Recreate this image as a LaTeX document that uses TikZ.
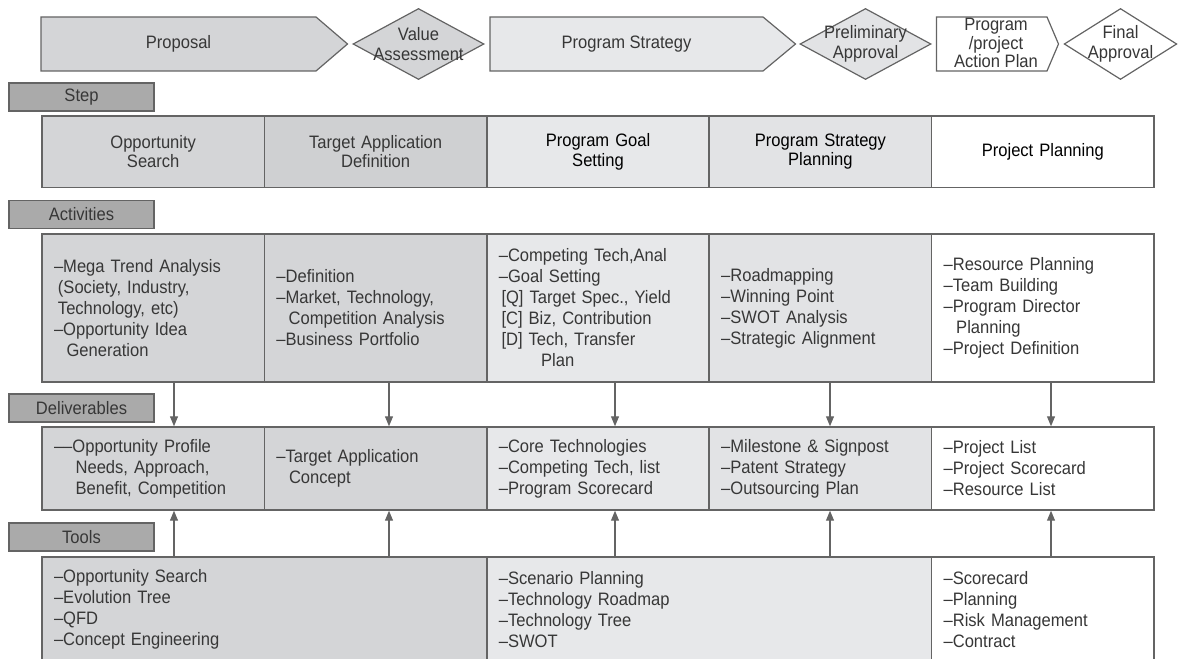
\documentclass[tikz,border=0pt]{standalone}
\usepackage{fontspec}
\setmainfont{Liberation Sans}[FakeStretch=0.92]
\usepackage{xcolor}
\usetikzlibrary{shapes.geometric,arrows.meta}
\definecolor{phasedark}{RGB}{212,213,215}
\definecolor{phasedeep}{RGB}{207,208,210}
\definecolor{phaselight}{RGB}{231,232,234}
\definecolor{phasemid}{RGB}{226,227,229}
\definecolor{labelfill}{RGB}{170,170,170}
\definecolor{edge}{RGB}{100,100,100}
\definecolor{ink}{RGB}{55,55,55}
\tikzstyle{banner}=[draw=edge, line width=0.9pt]
\tikzstyle{gate}=[diamond, draw=edge, line width=0.9pt, minimum width=98.25pt, minimum height=53.25pt, inner sep=0pt]
\tikzstyle{gatetext}=[align=center, inner sep=0pt, font=\fontsize{13.5pt}{15pt}\selectfont]
\tikzstyle{tag}=[draw=edge, line width=1pt, fill=labelfill, minimum width=108.75pt, minimum height=21pt, inner sep=0pt]
\tikzstyle{stepcell}=[draw=edge, line width=1.1pt, minimum width=166.8pt, minimum height=53.6pt, text width=148.8pt, align=center, inner sep=0pt, font=\fontsize{13.5pt}{14.5pt}\selectfont]
\tikzstyle{cell}=[draw=edge, line width=1.1pt, minimum width=166.8pt, text width=148.8pt, align=left, inner xsep=9pt, inner ysep=0pt]
\tikzstyle{widecell}=[cell, minimum width=333.6pt, text width=315.6pt]
\tikzset{flow/.style={-{Triangle[length=7.5pt,width=6pt]}, draw=edge, line width=0.9pt}}

\begin{document}
\begin{tikzpicture}[x=0.75pt, y=-0.75pt, font=\fontsize{13.5pt}{15.75pt}\selectfont, text=ink]
  \useasboundingbox (0,0) rectangle (1178,659);
  \clip (0,0) rectangle (1178,659);

  %% Phases
  \draw[banner, fill=phasedark] (41,17) -- (316,17) -- (347.5,44) -- (316,71) -- (41,71) -- cycle;
  \draw (178.5,44) node (Proposal) {Proposal};
  \draw (418.5,44) node[gate, fill=phasedark] (ValueGate) {};
  \draw (ValueGate) node[gatetext] (ValueText) {Value\\Assessment};
  \draw[banner, fill=phaselight] (490,17) -- (763,17) -- (795.5,44) -- (763,71) -- (490,71) -- cycle;
  \draw (626.5,44) node (Strategy) {Program Strategy};
  \draw (865.5,44) node[gate, fill=phasemid] (PrelimGate) {};
  \draw (PrelimGate) node[gatetext] (PrelimText) {Preliminary\\Approval};
  \draw[banner, fill=white] (936.5,17) -- (1047,17) -- (1058.5,44) -- (1047,71) -- (936.5,71) -- cycle;
  \draw (996,43) node[align=center, inner sep=0pt, font=\fontsize{13.5pt}{11.6pt}\selectfont] (ActionPlan) {Program\\/project\\Action Plan};
  \draw (1120.5,44) node[gate, fill=white, minimum width=84.5pt] (FinalGate) {};
  \draw (FinalGate) node[gatetext] (FinalText) {Final\\Approval};

  %% Row tags
  \draw (81.5,97) node[tag] (StepTag) {Step};
  \draw (81.5,214.5) node[tag] (ActTag) {Activities};
  \draw (81.5,408) node[tag] (DelTag) {Deliverables};
  \draw (81.5,537) node[tag] (ToolTag) {Tools};

  %% Step
  \draw (153.2,151.75) node[stepcell, fill=phasedark] (S1) {Opportunity\\Search};
  \draw (375.6,151.75) node[stepcell, fill=phasedeep] (S2) {Target Application\\Definition};
  \draw (598,151.75) node[stepcell, fill=phaselight, text=black] (S3) {Program Goal\\Setting};
  \draw (820.4,151.75) node[stepcell, fill=phasemid, text=black] (S4) {Program Strategy\\Planning};
  \draw (1042.8,151.75) node[stepcell, fill=white, text=black] (S5) {Project Planning};

  %% Activities
  \draw (153.2,308) node[cell, fill=phasedark, minimum height=111pt] (A1) {–Mega Trend Analysis\\\hspace*{0.22em}(Society, Industry,\\\hspace*{0.22em}Technology, etc)\\–Opportunity Idea\\\hspace*{0.7em}Generation};
  \draw (375.6,308) node[cell, fill=phasedark, minimum height=111pt] (A2) {–Definition\\–Market, Technology,\\\hspace*{0.68em}Competition Analysis\\–Business Portfolio};
  \draw (598,308) node[cell, fill=phaselight, minimum height=111pt] (A3) {–Competing Tech,Anal\\–Goal Setting\\\hspace*{0.15em}[Q] Target Spec., Yield\\\hspace*{0.15em}[C] Biz, Contribution\\\hspace*{0.15em}[D] Tech, Transfer\\\hspace*{2.35em}Plan};
  \draw (820.4,308) node[cell, fill=phasemid, minimum height=111pt] (A4) {–Roadmapping\\–Winning Point\\–SWOT Analysis\\–Strategic Alignment};
  \draw (1042.8,308) node[cell, fill=white, minimum height=111pt] (A5) {–Resource Planning\\–Team Building\\–Program Director\\\hspace*{0.7em}Planning\\–Project Definition};

  %% Deliverables
  \draw (153.2,468.5) node[cell, fill=phasedark, minimum height=62.25pt] (D1) {––Opportunity Profile\\\hspace*{1.2em}Needs, Approach,\\\hspace*{1.2em}Benefit, Competition};
  \draw (375.6,468.5) node[cell, fill=phasedark, minimum height=62.25pt] (D2) {–Target Application\\\hspace*{0.7em}Concept};
  \draw (598,468.5) node[cell, fill=phaselight, minimum height=62.25pt] (D3) {–Core Technologies\\–Competing Tech, list\\–Program Scorecard};
  \draw (820.4,468.5) node[cell, fill=phasemid, minimum height=62.25pt] (D4) {–Milestone \& Signpost\\–Patent Strategy\\–Outsourcing Plan};
  \draw (1042.8,468.5) node[cell, fill=white, minimum height=62.25pt] (D5) {–Project List\\–Project Scorecard\\–Resource List};

  %% Tools
  \draw (264.4,609.5) node[widecell, fill=phasedark, minimum height=78.75pt] (T1) {–Opportunity Search\\–Evolution Tree\\–QFD\\–Concept Engineering};
  \draw (709.2,609.5) node[widecell, fill=phaselight, minimum height=78.75pt] (T2) {–Scenario Planning\\–Technology Roadmap\\–Technology Tree\\–SWOT};
  \draw (1042.8,609.5) node[cell, fill=white, minimum height=78.75pt] (T3) {–Scorecard\\–Planning\\–Risk Management\\–Contract};

  %% Links
  \coordinate (c1) at (174,0);
  \coordinate (c2) at (389,0);
  \coordinate (c3) at (615,0);
  \coordinate (c4) at (830,0);
  \coordinate (c5) at (1051,0);
  \draw[flow] (A1.south -| c1) -- (D1.north -| c1);
  \draw[flow] (A2.south -| c2) -- (D2.north -| c2);
  \draw[flow] (A3.south -| c3) -- (D3.north -| c3);
  \draw[flow] (A4.south -| c4) -- (D4.north -| c4);
  \draw[flow] (A5.south -| c5) -- (D5.north -| c5);
  \draw[flow] (T1.north -| c1) -- (D1.south -| c1);
  \draw[flow] (T1.north -| c2) -- (D2.south -| c2);
  \draw[flow] (T2.north -| c3) -- (D3.south -| c3);
  \draw[flow] (T2.north -| c4) -- (D4.south -| c4);
  \draw[flow] (T3.north -| c5) -- (D5.south -| c5);
\end{tikzpicture}
\end{document}
